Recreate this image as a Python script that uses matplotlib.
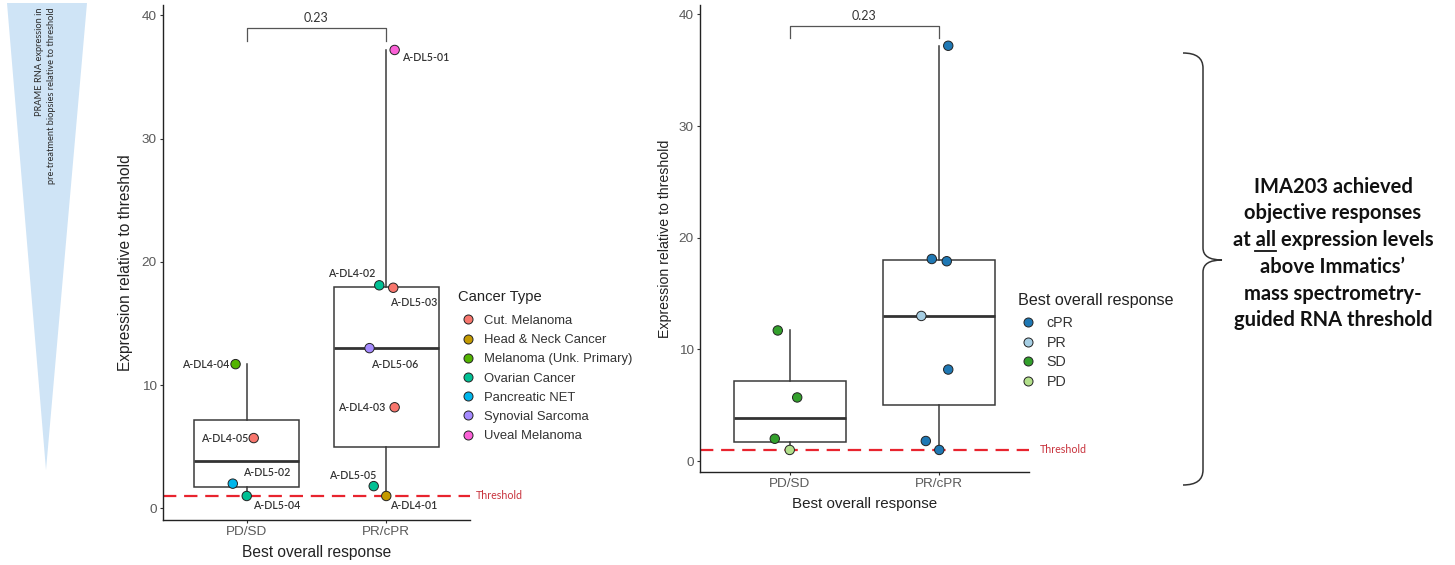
import matplotlib
matplotlib.use("Agg")
import matplotlib.pyplot as plt
from matplotlib.lines import Line2D
from matplotlib.patches import Polygon, PathPatch
from matplotlib.path import Path
import numpy as np

plt.rcParams['font.family'] = ['Liberation Sans', 'DejaVu Sans']

# ---- data ----
groups = ["PD/SD", "PR/cPR"]
patients = ["A-DL4-04", "A-DL4-05", "A-DL5-02", "A-DL5-04",
            "A-DL5-01", "A-DL4-02", "A-DL5-03", "A-DL5-06", "A-DL4-03", "A-DL5-05", "A-DL4-01"]
patient_group = ["PD/SD"] * 4 + ["PR/cPR"] * 7
expression = [11.7, 5.7, 2.0, 1.0, 37.2, 18.1, 17.9, 13.0, 8.2, 1.8, 1.0]
cancer_type = ["Melanoma (Unk. Primary)", "Cut. Melanoma", "Pancreatic NET", "Ovarian Cancer",
               "Uveal Melanoma", "Ovarian Cancer", "Cut. Melanoma", "Synovial Sarcoma",
               "Cut. Melanoma", "Ovarian Cancer", "Head & Neck Cancer"]
response = ["SD", "SD", "SD", "PD", "cPR", "cPR", "cPR", "PR", "cPR", "cPR", "cPR"]

cancer_types = ["Cut. Melanoma", "Head & Neck Cancer", "Melanoma (Unk. Primary)", "Ovarian Cancer",
                "Pancreatic NET", "Synovial Sarcoma", "Uveal Melanoma"]
cancer_colors = ["#F8766D", "#C49A00", "#53B400", "#00C094", "#00B6EB", "#A58AFF", "#FB61D7"]
responses = ["cPR", "PR", "SD", "PD"]
response_colors = ["#1F78B4", "#A6CEE3", "#33A02C", "#B2DF8A"]

threshold = 1.0
p_value = "0.23"
bracket_y = 39.0
bracket_leg = 37.9

# ---- layout (jitter and label offsets in pixels) ----
jitter = [-0.08, 0.05, -0.10, 0.0, 0.06, -0.05, 0.05, -0.12, 0.06, -0.09, 0.0]
label_offsets = [(-6, 0, "right"), (-5, 0, "right"), (10, 11, "left"), (6, -10, "left"),
                 (7, -8, "left"), (-4, 12, "right"), (-3, -15, "left"), (1, -16, "left"),
                 (-9, 0, "right"), (3, 11, "right"), (4, -10, "left")]

W, H = 1455, 565
fig = plt.figure(figsize=(W / 100, H / 100), dpi=100)

# overlay in pixel coords for the annotations
ov = fig.add_axes([0, 0, 1, 1])
ov.set_xlim(0, W)
ov.set_ylim(H, 0)
ov.axis("off")

ax1 = fig.add_axes([163 / W, 1 - 520 / H, 307 / W, 515 / H])
ax2 = fig.add_axes([700 / W, 1 - 471.7 / H, 329 / W, 466.7 / H])

xpos = np.array([groups.index(g) + 1 for g in patient_group]) + np.array(jitter)
vals = np.array(expression)
by_group = [vals[[g == grp for g in patient_group]] for grp in groups]

def base_panel(ax, thr_x, ylab_size, ylab_pad, xlab_size):
    ax.set_facecolor("none")
    ax.boxplot(by_group, positions=[1, 2], widths=0.75, showfliers=False, showcaps=False,
               patch_artist=True,
               boxprops=dict(facecolor="white", edgecolor="#3a3a3a", linewidth=1.1),
               medianprops=dict(color="#333333", linewidth=2.0),
               whiskerprops=dict(color="#3a3a3a", linewidth=1.1), zorder=1)
    ax.axhline(threshold, color="#E8242E", lw=1.6, dashes=(6, 3.5), zorder=2)
    ax.text(thr_x, threshold, "Threshold", transform=ax.get_yaxis_transform(),
            color="#C8323C", fontsize=7.7, family=["Lato", "DejaVu Sans"], va="center", ha="left",
            clip_on=False)
    ax.plot([1, 1, 2, 2], [bracket_leg, bracket_y, bracket_y, bracket_leg], color="#555555", lw=0.9)
    ax.text(1.5, bracket_y + 0.3, p_value, ha="center", va="bottom", fontsize=9,
            family=["Lato", "DejaVu Sans"], color="#333333")
    ax.set_xlim(0.4, 2.6)
    ax.set_ylim(-0.95, 40.85)
    ax.set_xticks([1, 2])
    ax.set_xticklabels(groups)
    ax.set_yticks([0, 10, 20, 30, 40])
    for s in ["top", "right"]:
        ax.spines[s].set_visible(False)
    for s in ["left", "bottom"]:
        ax.spines[s].set_color("#222222")
        ax.spines[s].set_linewidth(1.0)
    ax.tick_params(length=2.5, width=0.8, color="#333333", labelcolor="#5a5a5a", labelsize=9.7, pad=2)
    ax.set_xlabel("Best overall response", fontsize=xlab_size, color="#222222", labelpad=5)
    ax.set_ylabel("Expression relative to threshold", fontsize=ylab_size, color="#222222",
                  labelpad=ylab_pad)

# left panel: colored by cancer type
base_panel(ax1, 1.02, 11.2, 6, 11.2)
c1 = [cancer_colors[cancer_types.index(c)] for c in cancer_type]
ax1.scatter(xpos, vals, s=46, c=c1, edgecolors="#222222", linewidths=0.7, zorder=4, clip_on=False)
for name, x, y, (dx, dy, ha) in zip(patients, xpos, vals, label_offsets):
    ax1.annotate(name, (x, y), xytext=(dx, dy), textcoords="offset pixels", ha=ha, va="center",
                 fontsize=7.7, family=["Lato", "DejaVu Sans"], weight="semibold", color="#333333",
                 zorder=5)
h1 = [Line2D([], [], marker="o", ls="", mfc=c, mec="#222222", mew=0.7, ms=6.5) for c in cancer_colors]
ax1.legend(h1, cancer_types, loc="upper left",
           bbox_to_anchor=(458 / W, 1 - 314.7 / H), bbox_transform=fig.transFigure,
           frameon=False, borderpad=0, borderaxespad=0, fontsize=9.4, labelcolor="#333333",
           handlelength=1.5, handletextpad=0.5, labelspacing=0.544)
ov.text(458, 296.7, "Cancer Type", fontsize=10.6, color="#222222", ha="left", va="center")

# right panel: colored by response
base_panel(ax2, 1.033, 10.2, 4.5, 10.9)
c2 = [response_colors[responses.index(r)] for r in response]
ax2.scatter(xpos, vals, s=46, c=c2, edgecolors="#222222", linewidths=0.7, zorder=4, clip_on=False)
h2 = [Line2D([], [], marker="o", ls="", mfc=c, mec="#222222", mew=0.7, ms=6.5) for c in response_colors]
ax2.legend(h2, responses, loc="upper left",
           bbox_to_anchor=(1018 / W, 1 - 316.4 / H), bbox_transform=fig.transFigure,
           frameon=False, borderpad=0, borderaxespad=0, fontsize=10.3, labelcolor="#333333",
           handlelength=1.4, handletextpad=0.6, labelspacing=0.385)
ov.text(1018, 300, "Best overall response", fontsize=11.6, color="#222222", ha="left", va="center")

# wedge on the left
ov.add_patch(Polygon([(7, 3), (87, 3), (46, 470)], closed=True, facecolor="#CFE4F6", edgecolor="none"))
tri_font = dict(rotation=90, ha="center", va="top", fontsize=6.7, family=["Lato", "DejaVu Sans"],
                color="#2a2a2a")
ov.text(40, 7, "PRAME RNA expression in", **tri_font)
ov.text(52, 7, "pre-treatment biopsies relative to threshold", **tri_font)

# curly brace
verts = [(1183, 53), (1203, 53), (1203, 68), (1203, 248), (1203, 260), (1222, 260),
         (1203, 260), (1203, 272), (1203, 470), (1203, 485), (1183, 485)]
codes = [Path.MOVETO, Path.CURVE3, Path.CURVE3, Path.LINETO, Path.CURVE3, Path.CURVE3,
         Path.CURVE3, Path.CURVE3, Path.LINETO, Path.CURVE3, Path.CURVE3]
ov.add_patch(PathPatch(Path(verts, codes), facecolor="none", edgecolor="#333333", lw=1.1))

# side message
msg_lines = ["IMA203 achieved", "objective responses", "at all expression levels",
             "above Immatics\u2019", "mass spectrometry-", "guided RNA threshold"]
msg_font = dict(fontsize=14.5, family=["Lato", "DejaVu Sans"], weight="bold", color="#111111")
cx = 1333
for i, line in enumerate(msg_lines):
    ov.text(cx, 186.7 + i * 26.7, line, ha="center", va="center", **msg_font)

# underline "all"
fig.canvas.draw()
r = fig.canvas.get_renderer()
def width_px(s):
    t = ov.text(0, 0, s, **msg_font)
    w = t.get_window_extent(renderer=r).width
    t.remove()
    return w
full = width_px(msg_lines[2])
x0 = cx - full / 2 + width_px("at all") - width_px("all")
x1 = x0 + width_px("all")
ov.plot([x0, x1], [250.5, 250.5], color="#111111", lw=1.3)

fig.savefig("out.png", dpi=100)
